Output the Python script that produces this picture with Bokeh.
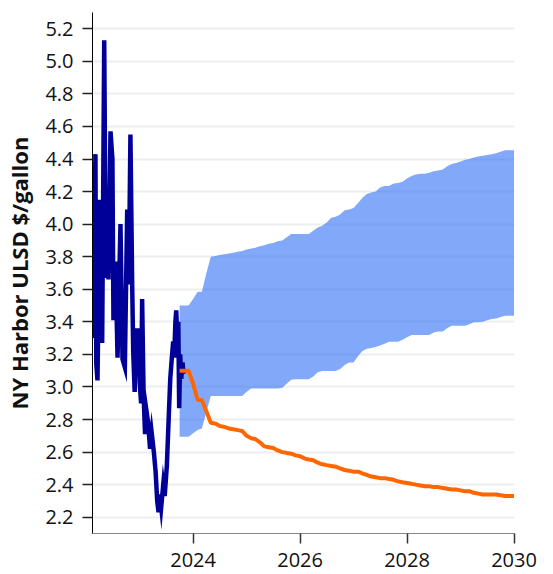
import datetime as dt
import pandas as pd
from bokeh.plotting import figure
from bokeh.models import FixedTicker, NumeralTickFormatter, DatetimeTickFormatter, Range1d
from bokeh.embed import file_html
from bokeh.resources import INLINE

# ---- historical NY Harbor ULSD spot ($/gallon) ----
hist_dates = [
    "2022-02-18", "2022-03-05", "2022-03-11", "2022-03-19", "2022-04-04", "2022-04-20",
    "2022-05-04", "2022-05-15", "2022-05-26", "2022-06-02", "2022-06-16", "2022-06-29",
    "2022-07-06", "2022-07-20", "2022-08-03", "2022-08-23", "2022-09-06", "2022-09-22",
    "2022-10-08", "2022-10-19", "2022-10-30", "2022-11-11", "2022-11-18", "2022-11-28",
    "2022-12-06", "2022-12-15", "2022-12-24", "2023-01-01", "2023-01-11", "2023-01-18",
    "2023-01-28", "2023-02-07", "2023-02-17", "2023-02-28", "2023-03-13", "2023-03-24",
    "2023-04-08", "2023-04-20", "2023-05-01", "2023-05-10", "2023-05-18", "2023-05-28",
    "2023-06-11", "2023-06-21", "2023-07-06", "2023-07-18", "2023-07-29", "2023-08-09",
    "2023-08-18", "2023-08-25", "2023-09-02", "2023-09-08", "2023-09-15", "2023-09-22",
    "2023-09-28", "2023-10-05", "2023-10-12", "2023-10-21", "2023-10-27",
]
hist_price = [
    3.30, 4.43, 3.14, 3.04, 4.15, 3.27,
    5.13, 3.67, 4.19, 3.66, 4.57, 4.40,
    3.41, 3.77, 3.18, 4.00, 3.17, 3.12,
    4.09, 3.63, 4.55, 3.63, 3.22, 2.97,
    3.36, 3.10, 3.36, 3.03, 2.90, 3.54,
    2.95, 2.71, 2.85, 2.78, 2.62, 2.72,
    2.60, 2.48, 2.30, 2.23, 2.34, 2.26,
    2.40, 2.33, 2.52, 2.80, 3.05, 3.18,
    3.28, 3.18, 3.40, 3.47, 3.30, 3.40,
    2.87, 3.20, 3.05, 3.15, 3.08,
]

# ---- monthly forecast Oct 2023 .. Jan 2030 ----
fc_start = "2023-10-01"
fc_end = "2030-01-01"
fc_mid = [
    3.10, 3.10, 3.10,
    3.02, 2.92, 2.92, 2.85, 2.78, 2.775, 2.76, 2.755, 2.745, 2.74, 2.735, 2.73,
    2.70, 2.685, 2.68, 2.66, 2.635, 2.63, 2.625, 2.61, 2.60, 2.595, 2.59, 2.58,
    2.575, 2.56, 2.555, 2.55, 2.535, 2.525, 2.52, 2.515, 2.51, 2.50, 2.49, 2.485,
    2.48, 2.48, 2.47, 2.46, 2.45, 2.445, 2.44, 2.44, 2.435, 2.43, 2.42, 2.415,
    2.41, 2.405, 2.40, 2.395, 2.39, 2.39, 2.385, 2.385, 2.38, 2.375, 2.37, 2.37,
    2.365, 2.36, 2.36, 2.35, 2.345, 2.34, 2.34, 2.34, 2.34, 2.335, 2.33, 2.33,
    2.33,
]
fc_high = [
    3.50, 3.50, 3.50,
    3.54, 3.585, 3.585, 3.70, 3.80, 3.805, 3.81, 3.815, 3.82, 3.825, 3.83, 3.835,
    3.845, 3.85, 3.855, 3.865, 3.87, 3.88, 3.885, 3.895, 3.90, 3.92, 3.94, 3.94,
    3.94, 3.94, 3.94, 3.96, 3.98, 3.99, 4.01, 4.04, 4.045, 4.06, 4.085, 4.09,
    4.10, 4.13, 4.16, 4.185, 4.195, 4.20, 4.225, 4.235, 4.235, 4.25, 4.253, 4.26,
    4.28, 4.296, 4.305, 4.31, 4.31, 4.315, 4.325, 4.33, 4.335, 4.355, 4.37, 4.375,
    4.385, 4.395, 4.40, 4.41, 4.415, 4.42, 4.425, 4.43, 4.435, 4.445, 4.454, 4.454,
    4.454,
]
fc_low = [
    2.695, 2.695, 2.695,
    2.715, 2.735, 2.745, 2.85, 2.945, 2.945, 2.945, 2.945, 2.945, 2.945, 2.945, 2.945,
    2.97, 2.99, 2.99, 2.99, 2.99, 2.99, 2.99, 2.99, 2.995, 3.02, 3.045, 3.047,
    3.047, 3.047, 3.047, 3.065, 3.09, 3.098, 3.098, 3.098, 3.098, 3.11, 3.135, 3.15,
    3.15, 3.19, 3.22, 3.235, 3.24, 3.245, 3.255, 3.265, 3.278, 3.278, 3.278, 3.29,
    3.305, 3.319, 3.319, 3.319, 3.319, 3.319, 3.335, 3.34, 3.34, 3.36, 3.376, 3.376,
    3.376, 3.376, 3.385, 3.397, 3.397, 3.40, 3.41, 3.417, 3.42, 3.43, 3.437, 3.437,
    3.437,
]

y_ticks = [2.2, 2.4, 2.6, 2.8, 3.0, 3.2, 3.4, 3.6, 3.8, 4.0, 4.2, 4.4, 4.6, 4.8, 5.0, 5.2]
x_tick_years = [2024, 2026, 2028, 2030]
y_label = "NY Harbor ULSD $/gallon"

hist_x = pd.to_datetime(hist_dates)
fc_x = pd.date_range(fc_start, fc_end, freq="MS")

def ms(d):
    return (pd.Timestamp(d) - pd.Timestamp("1970-01-01")).total_seconds() * 1000.0

p = figure(
    width=552, height=574,
    x_axis_type="datetime",
    output_backend="svg", toolbar_location=None,
    x_range=Range1d(ms("2022-02-13"), ms("2030-01-04")),
    y_range=Range1d(2.1, 5.3),
    min_border_left=92, min_border_right=38, min_border_top=12, min_border_bottom=41,
    background_fill_color="white", border_fill_color="white",
)
p.outline_line_color = None

p.varea(x=fc_x, y1=fc_low, y2=fc_high, fill_color="#2f6ff5", fill_alpha=0.6)
p.line(hist_x, hist_price, line_color="#000099", line_width=4.5, line_join="miter")
p.line(fc_x, fc_mid, line_color="#ff6600", line_width=4)

FONT = "Open Sans"

p.xgrid.visible = False
p.ygrid.grid_line_color = "#eeeeee"
p.ygrid.grid_line_width = 2

p.yaxis.ticker = FixedTicker(ticks=y_ticks)
p.yaxis.formatter = NumeralTickFormatter(format="0.0")
p.xaxis.ticker = FixedTicker(ticks=[ms(f"{y}-01-01") for y in x_tick_years])
p.xaxis.formatter = DatetimeTickFormatter(years="%Y", months="%Y", days="%Y")

for ax in (p.xaxis[0], p.yaxis[0]):
    ax.major_tick_out = 10
    ax.major_tick_in = 0
    ax.minor_tick_out = 0
    ax.minor_tick_in = 0
    ax.major_label_text_font = FONT
    ax.major_label_text_font_size = "20px"
    ax.major_label_text_color = "#111111"
    ax.major_tick_line_width = 1.5

p.yaxis.axis_line_color = "#000000"
p.yaxis.major_tick_line_color = "#222222"
p.yaxis.major_label_standoff = 9
p.xaxis.axis_line_color = "#888888"
p.xaxis.major_tick_line_color = "#333333"
p.xaxis.major_label_standoff = 9

p.yaxis.axis_label = y_label
p.yaxis.axis_label_text_font = FONT
p.yaxis.axis_label_text_font_style = "bold"
p.yaxis.axis_label_text_font_size = "22px"
p.yaxis.axis_label_text_color = "#111111"
p.yaxis.axis_label_standoff = 8

open("out.html", "w").write(file_html(p, INLINE))
